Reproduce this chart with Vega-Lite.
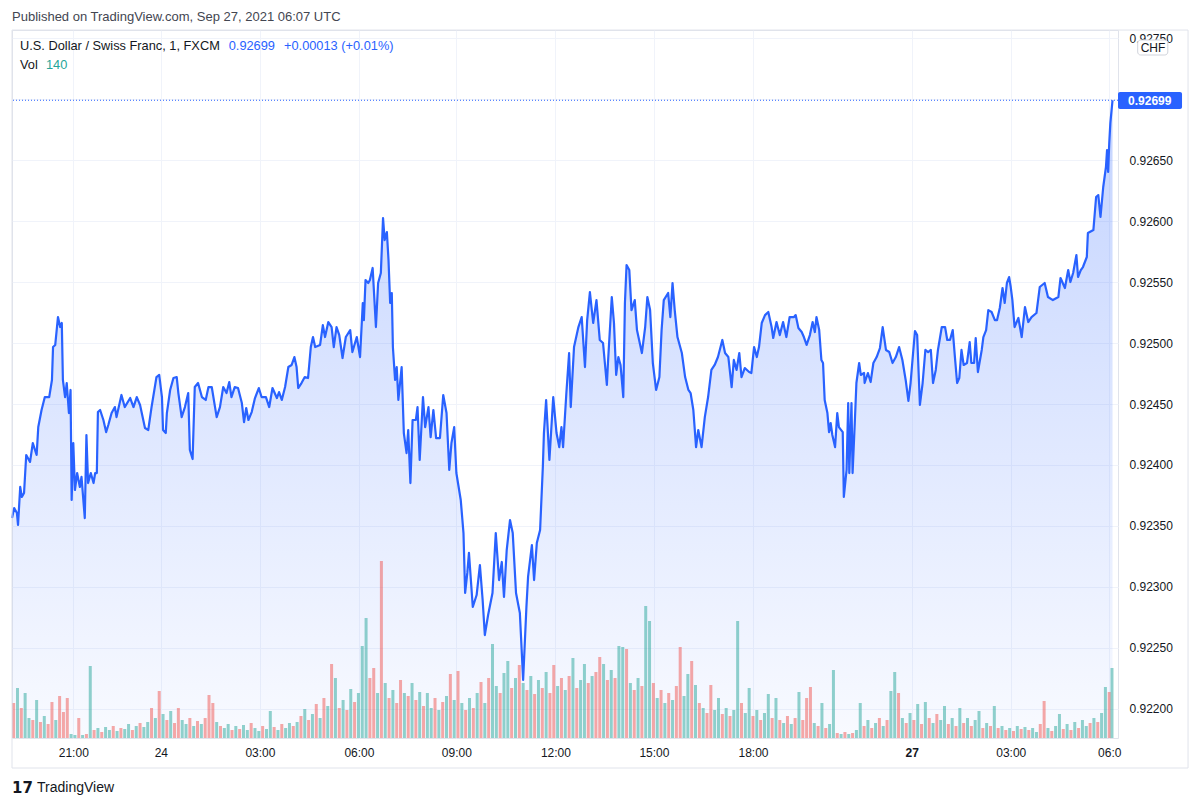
{
  "$schema": "https://vega.github.io/schema/vega-lite/v6.json",
  "width": 1106,
  "height": 708,
  "autosize": {"type": "none"},
  "padding": {"left": 12, "top": 30, "right": 82, "bottom": 69},
  "background": "white",
  "config": {"view": {"stroke": "#e0e3eb"}, "font": "Liberation Sans"},
  "datasets": {
    "price": [
      {"m":0,"p":0.923565},{"m":4,"p":0.923647},{"m":9,"p":0.923606},{"m":11,"p":0.923508},{"m":15,"p":0.92382},{"m":18,"p":0.923738},{"m":22,"p":0.92377},{"m":26,"p":0.924082},{"m":33,"p":0.924025},{"m":38,"p":0.92418},{"m":45,"p":0.924082},{"m":48,"p":0.924311},{"m":54,"p":0.924451},{"m":60,"p":0.924557},{"m":68,"p":0.924557},{"m":73,"p":0.924697},{"m":75,"p":0.924967},{"m":79,"p":0.924984},{"m":84,"p":0.925213},{"m":88,"p":0.925131},{"m":91,"p":0.925164},{"m":93,"p":0.924697},{"m":97,"p":0.924557},{"m":100,"p":0.924672},{"m":104,"p":0.924426},{"m":107,"p":0.924615},{"m":109,"p":0.923713},{"m":112,"p":0.92418},{"m":115,"p":0.923795},{"m":119,"p":0.923934},{"m":124,"p":0.92382},{"m":127,"p":0.923902},{"m":133,"p":0.923565},{"m":136,"p":0.924246},{"m":139,"p":0.923852},{"m":144,"p":0.923934},{"m":149,"p":0.923852},{"m":152,"p":0.923934},{"m":155,"p":0.923934},{"m":157,"p":0.924434},{"m":161,"p":0.924451},{"m":167,"p":0.924369},{"m":172,"p":0.92427},{"m":176,"p":0.924328},{"m":182,"p":0.924426},{"m":188,"p":0.924475},{"m":191,"p":0.924393},{"m":200,"p":0.924574},{"m":206,"p":0.924475},{"m":216,"p":0.924549},{"m":222,"p":0.924475},{"m":228,"p":0.924557},{"m":234,"p":0.924492},{"m":243,"p":0.924303},{"m":249,"p":0.924287},{"m":255,"p":0.924475},{"m":264,"p":0.924721},{"m":269,"p":0.924738},{"m":274,"p":0.924557},{"m":276,"p":0.924287},{"m":281,"p":0.924262},{"m":283,"p":0.924426},{"m":289,"p":0.924615},{"m":295,"p":0.924713},{"m":301,"p":0.924721},{"m":304,"p":0.92459},{"m":310,"p":0.924393},{"m":316,"p":0.924475},{"m":322,"p":0.92459},{"m":325,"p":0.924123},{"m":330,"p":0.924049},{"m":334,"p":0.924639},{"m":340,"p":0.924672},{"m":347,"p":0.924557},{"m":354,"p":0.924533},{"m":359,"p":0.924639},{"m":365,"p":0.924639},{"m":371,"p":0.924475},{"m":374,"p":0.924393},{"m":380,"p":0.924475},{"m":386,"p":0.924639},{"m":392,"p":0.92459},{"m":397,"p":0.92468},{"m":401,"p":0.924557},{"m":407,"p":0.924639},{"m":413,"p":0.924631},{"m":420,"p":0.924508},{"m":424,"p":0.924352},{"m":428,"p":0.924467},{"m":432,"p":0.924369},{"m":438,"p":0.924434},{"m":444,"p":0.924549},{"m":451,"p":0.924631},{"m":456,"p":0.924557},{"m":464,"p":0.924557},{"m":470,"p":0.924475},{"m":476,"p":0.924631},{"m":484,"p":0.924549},{"m":488,"p":0.924598},{"m":493,"p":0.924533},{"m":499,"p":0.924639},{"m":505,"p":0.924803},{"m":511,"p":0.92482},{"m":516,"p":0.924885},{"m":520,"p":0.924803},{"m":523,"p":0.924631},{"m":529,"p":0.924672},{"m":535,"p":0.924721},{"m":541,"p":0.924713},{"m":546,"p":0.924967},{"m":550,"p":0.925049},{"m":554,"p":0.924967},{"m":563,"p":0.924984},{"m":568,"p":0.925147},{"m":572,"p":0.925049},{"m":578,"p":0.925172},{"m":584,"p":0.925131},{"m":588,"p":0.924967},{"m":593,"p":0.925131},{"m":598,"p":0.925065},{"m":604,"p":0.924877},{"m":610,"p":0.925049},{"m":618,"p":0.925106},{"m":622,"p":0.924926},{"m":630,"p":0.925049},{"m":636,"p":0.924885},{"m":641,"p":0.925328},{"m":643,"p":0.925188},{"m":646,"p":0.925516},{"m":651,"p":0.925492},{"m":654,"p":0.925516},{"m":659,"p":0.925615},{"m":665,"p":0.925131},{"m":669,"p":0.925492},{"m":674,"p":0.925574},{"m":678,"p":0.926025},{"m":681,"p":0.925844},{"m":685,"p":0.92591},{"m":688,"p":0.92568},{"m":691,"p":0.925328},{"m":694,"p":0.92541},{"m":696,"p":0.924967},{"m":700,"p":0.924697},{"m":703,"p":0.924803},{"m":706,"p":0.924533},{"m":712,"p":0.924803},{"m":716,"p":0.924262},{"m":721,"p":0.924098},{"m":724,"p":0.924287},{"m":728,"p":0.923852},{"m":732,"p":0.924369},{"m":738,"p":0.924369},{"m":741,"p":0.924475},{"m":745,"p":0.924041},{"m":751,"p":0.924557},{"m":755,"p":0.924311},{"m":761,"p":0.924475},{"m":765,"p":0.924229},{"m":770,"p":0.924451},{"m":775,"p":0.924221},{"m":782,"p":0.924221},{"m":788,"p":0.924574},{"m":794,"p":0.924426},{"m":799,"p":0.923959},{"m":803,"p":0.92418},{"m":808,"p":0.924311},{"m":812,"p":0.923934},{"m":820,"p":0.923713},{"m":825,"p":0.923442},{"m":828,"p":0.922951},{"m":832,"p":0.923115},{"m":835,"p":0.923279},{"m":842,"p":0.922836},{"m":849,"p":0.922934},{"m":855,"p":0.92318},{"m":860,"p":0.922893},{"m":864,"p":0.922606},{"m":870,"p":0.92277},{"m":878,"p":0.922951},{"m":884,"p":0.923442},{"m":890,"p":0.923057},{"m":895,"p":0.923205},{"m":899,"p":0.922918},{"m":904,"p":0.923303},{"m":910,"p":0.923549},{"m":915,"p":0.923442},{"m":921,"p":0.922951},{"m":928,"p":0.922787},{"m":934,"p":0.922238},{"m":940,"p":0.922836},{"m":943,"p":0.923082},{"m":950,"p":0.923344},{"m":954,"p":0.923057},{"m":959,"p":0.92336},{"m":965,"p":0.923467},{"m":970,"p":0.923983},{"m":972,"p":0.924262},{"m":976,"p":0.924533},{"m":982,"p":0.924041},{"m":989,"p":0.924557},{"m":995,"p":0.924262},{"m":1000,"p":0.924147},{"m":1004,"p":0.924311},{"m":1007,"p":0.924147},{"m":1013,"p":0.92459},{"m":1018,"p":0.924918},{"m":1021,"p":0.924475},{"m":1027,"p":0.924967},{"m":1035,"p":0.925131},{"m":1041,"p":0.925213},{"m":1047,"p":0.924803},{"m":1051,"p":0.925188},{"m":1056,"p":0.925418},{"m":1062,"p":0.925164},{"m":1068,"p":0.925352},{"m":1074,"p":0.925025},{"m":1080,"p":0.925},{"m":1087,"p":0.924656},{"m":1089,"p":0.924836},{"m":1096,"p":0.925377},{"m":1100,"p":0.925164},{"m":1104,"p":0.924738},{"m":1108,"p":0.924885},{"m":1112,"p":0.92482},{"m":1117,"p":0.924557},{"m":1120,"p":0.925328},{"m":1123,"p":0.925639},{"m":1128,"p":0.925598},{"m":1132,"p":0.92527},{"m":1138,"p":0.925352},{"m":1142,"p":0.925106},{"m":1151,"p":0.924918},{"m":1157,"p":0.925131},{"m":1161,"p":0.925377},{"m":1166,"p":0.92527},{"m":1171,"p":0.924836},{"m":1177,"p":0.924615},{"m":1183,"p":0.924721},{"m":1187,"p":0.925106},{"m":1191,"p":0.925352},{"m":1199,"p":0.92541},{"m":1203,"p":0.925213},{"m":1207,"p":0.925492},{"m":1211,"p":0.92527},{"m":1216,"p":0.925049},{"m":1224,"p":0.924918},{"m":1230,"p":0.924721},{"m":1236,"p":0.924615},{"m":1240,"p":0.92459},{"m":1245,"p":0.924451},{"m":1250,"p":0.924147},{"m":1254,"p":0.924287},{"m":1260,"p":0.924147},{"m":1266,"p":0.924393},{"m":1272,"p":0.924557},{"m":1278,"p":0.924779},{"m":1284,"p":0.92482},{"m":1290,"p":0.924885},{"m":1298,"p":0.925025},{"m":1303,"p":0.924918},{"m":1309,"p":0.924885},{"m":1315,"p":0.924639},{"m":1319,"p":0.924861},{"m":1324,"p":0.924779},{"m":1329,"p":0.924918},{"m":1333,"p":0.924721},{"m":1339,"p":0.924795},{"m":1347,"p":0.924762},{"m":1351,"p":0.924754},{"m":1356,"p":0.924967},{"m":1361,"p":0.924885},{"m":1365,"p":0.924967},{"m":1370,"p":0.925164},{"m":1376,"p":0.925229},{"m":1382,"p":0.925254},{"m":1388,"p":0.925131},{"m":1391,"p":0.925041},{"m":1397,"p":0.925172},{"m":1403,"p":0.925065},{"m":1409,"p":0.925172},{"m":1415,"p":0.925049},{"m":1421,"p":0.925213},{"m":1429,"p":0.925213},{"m":1432,"p":0.925229},{"m":1437,"p":0.925123},{"m":1443,"p":0.92509},{"m":1447,"p":0.925049},{"m":1452,"p":0.924984},{"m":1458,"p":0.925065},{"m":1463,"p":0.925172},{"m":1467,"p":0.92509},{"m":1470,"p":0.925213},{"m":1475,"p":0.925106},{"m":1479,"p":0.924861},{"m":1482,"p":0.924836},{"m":1485,"p":0.924533},{"m":1490,"p":0.924426},{"m":1493,"p":0.92427},{"m":1496,"p":0.924344},{"m":1499,"p":0.924246},{"m":1504,"p":0.924147},{"m":1508,"p":0.924426},{"m":1511,"p":0.924311},{"m":1518,"p":0.92427},{"m":1520,"p":0.923738},{"m":1525,"p":0.923959},{"m":1528,"p":0.924508},{"m":1530,"p":0.923934},{"m":1534,"p":0.924508},{"m":1536,"p":0.923934},{"m":1540,"p":0.924344},{"m":1543,"p":0.924672},{"m":1548,"p":0.924836},{"m":1551,"p":0.924738},{"m":1557,"p":0.924754},{"m":1558,"p":0.924672},{"m":1564,"p":0.924754},{"m":1569,"p":0.92468},{"m":1574,"p":0.924836},{"m":1580,"p":0.924885},{"m":1586,"p":0.924959},{"m":1591,"p":0.925131},{"m":1597,"p":0.924943},{"m":1603,"p":0.924926},{"m":1609,"p":0.924836},{"m":1615,"p":0.924885},{"m":1621,"p":0.924967},{"m":1627,"p":0.924861},{"m":1633,"p":0.924697},{"m":1638,"p":0.924525},{"m":1642,"p":0.924672},{"m":1647,"p":0.924943},{"m":1650,"p":0.925098},{"m":1654,"p":0.925065},{"m":1659,"p":0.924492},{"m":1664,"p":0.924672},{"m":1669,"p":0.924943},{"m":1674,"p":0.924926},{"m":1679,"p":0.924943},{"m":1683,"p":0.924672},{"m":1688,"p":0.924779},{"m":1692,"p":0.924943},{"m":1699,"p":0.925131},{"m":1705,"p":0.925131},{"m":1709,"p":0.925025},{"m":1714,"p":0.925025},{"m":1719,"p":0.925106},{"m":1723,"p":0.924885},{"m":1727,"p":0.924672},{"m":1731,"p":0.924713},{"m":1735,"p":0.924943},{"m":1739,"p":0.92482},{"m":1745,"p":0.924836},{"m":1750,"p":0.925008},{"m":1753,"p":0.924836},{"m":1758,"p":0.924836},{"m":1761,"p":0.925041},{"m":1765,"p":0.924762},{"m":1772,"p":0.924943},{"m":1775,"p":0.925049},{"m":1780,"p":0.925106},{"m":1784,"p":0.92527},{"m":1790,"p":0.925254},{"m":1796,"p":0.925188},{"m":1800,"p":0.925188},{"m":1805,"p":0.925287},{"m":1810,"p":0.925451},{"m":1814,"p":0.925328},{"m":1818,"p":0.925492},{"m":1822,"p":0.925541},{"m":1825,"p":0.925459},{"m":1828,"p":0.925352},{"m":1832,"p":0.925131},{"m":1839,"p":0.925205},{"m":1845,"p":0.925049},{"m":1851,"p":0.925295},{"m":1857,"p":0.925172},{"m":1863,"p":0.925213},{"m":1872,"p":0.925246},{"m":1878,"p":0.925459},{"m":1887,"p":0.925492},{"m":1893,"p":0.925377},{"m":1902,"p":0.925352},{"m":1912,"p":0.925377},{"m":1916,"p":0.925533},{"m":1924,"p":0.925451},{"m":1930,"p":0.925598},{"m":1934,"p":0.9255},{"m":1939,"p":0.925574},{"m":1945,"p":0.925721},{"m":1948,"p":0.925541},{"m":1953,"p":0.925598},{"m":1957,"p":0.925623},{"m":1964,"p":0.925705},{"m":1966,"p":0.925902},{"m":1976,"p":0.925926},{"m":1981,"p":0.926197},{"m":1985,"p":0.926213},{"m":1989,"p":0.926033},{"m":1994,"p":0.926279},{"m":1999,"p":0.926443},{"m":2001,"p":0.926582},{"m":2003,"p":0.926402},{"m":2005,"p":0.926639},{"m":2007,"p":0.926803},{"m":2011,"p":0.92699}
    ],
    "vol": [
      {"m":3,"v":70,"d":"d"},{"m":10,"v":100,"d":"u"},{"m":17,"v":60,"d":"d"},{"m":24,"v":90,"d":"u"},{"m":31,"v":40,"d":"u"},{"m":38,"v":36,"d":"d"},{"m":45,"v":76,"d":"u"},{"m":52,"v":32,"d":"d"},{"m":59,"v":44,"d":"u"},{"m":66,"v":28,"d":"d"},
      {"m":73,"v":72,"d":"d"},{"m":80,"v":36,"d":"u"},{"m":87,"v":84,"d":"d"},{"m":94,"v":52,"d":"d"},{"m":101,"v":80,"d":"d"},{"m":108,"v":8,"d":"u"},{"m":115,"v":6,"d":"u"},{"m":122,"v":40,"d":"d"},{"m":129,"v":6,"d":"u"},{"m":136,"v":8,"d":"d"},
      {"m":143,"v":144,"d":"u"},{"m":150,"v":16,"d":"d"},{"m":157,"v":20,"d":"u"},{"m":164,"v":12,"d":"d"},{"m":171,"v":22,"d":"u"},{"m":178,"v":16,"d":"u"},{"m":185,"v":24,"d":"d"},{"m":192,"v":14,"d":"u"},{"m":199,"v":20,"d":"d"},{"m":206,"v":18,"d":"u"},
      {"m":213,"v":28,"d":"u"},{"m":220,"v":16,"d":"d"},{"m":227,"v":24,"d":"u"},{"m":234,"v":30,"d":"d"},{"m":241,"v":22,"d":"u"},{"m":248,"v":32,"d":"u"},{"m":255,"v":60,"d":"d"},{"m":262,"v":40,"d":"u"},{"m":269,"v":94,"d":"d"},{"m":276,"v":48,"d":"u"},
      {"m":283,"v":36,"d":"d"},{"m":290,"v":54,"d":"u"},{"m":297,"v":30,"d":"d"},{"m":304,"v":60,"d":"d"},{"m":311,"v":36,"d":"u"},{"m":318,"v":28,"d":"u"},{"m":325,"v":40,"d":"d"},{"m":332,"v":24,"d":"u"},{"m":339,"v":34,"d":"d"},{"m":346,"v":28,"d":"u"},
      {"m":353,"v":40,"d":"d"},{"m":360,"v":86,"d":"d"},{"m":367,"v":70,"d":"d"},{"m":374,"v":32,"d":"u"},{"m":381,"v":24,"d":"d"},{"m":388,"v":20,"d":"u"},{"m":395,"v":28,"d":"u"},{"m":402,"v":16,"d":"d"},{"m":409,"v":24,"d":"u"},{"m":416,"v":18,"d":"d"},
      {"m":423,"v":26,"d":"u"},{"m":430,"v":16,"d":"u"},{"m":437,"v":30,"d":"d"},{"m":444,"v":20,"d":"u"},{"m":451,"v":14,"d":"u"},{"m":458,"v":24,"d":"d"},{"m":465,"v":18,"d":"u"},{"m":472,"v":54,"d":"u"},{"m":479,"v":22,"d":"d"},{"m":486,"v":16,"d":"u"},
      {"m":493,"v":28,"d":"d"},{"m":500,"v":20,"d":"u"},{"m":507,"v":30,"d":"u"},{"m":514,"v":24,"d":"d"},{"m":521,"v":32,"d":"u"},{"m":528,"v":44,"d":"d"},{"m":535,"v":58,"d":"u"},{"m":542,"v":36,"d":"d"},{"m":549,"v":48,"d":"u"},{"m":556,"v":68,"d":"d"},
      {"m":563,"v":40,"d":"u"},{"m":570,"v":80,"d":"d"},{"m":577,"v":64,"d":"u"},{"m":584,"v":148,"d":"d"},{"m":591,"v":120,"d":"u"},{"m":598,"v":60,"d":"d"},{"m":605,"v":76,"d":"u"},{"m":612,"v":56,"d":"d"},{"m":619,"v":98,"d":"u"},{"m":626,"v":72,"d":"d"},
      {"m":633,"v":90,"d":"u"},{"m":640,"v":184,"d":"u"},{"m":647,"v":240,"d":"u"},{"m":654,"v":120,"d":"d"},{"m":661,"v":140,"d":"d"},{"m":668,"v":90,"d":"u"},{"m":675,"v":354,"d":"d"},{"m":682,"v":110,"d":"u"},{"m":689,"v":80,"d":"d"},{"m":696,"v":96,"d":"u"},
      {"m":703,"v":70,"d":"d"},{"m":710,"v":116,"d":"d"},{"m":717,"v":90,"d":"u"},{"m":724,"v":84,"d":"d"},{"m":731,"v":110,"d":"u"},{"m":738,"v":76,"d":"d"},{"m":745,"v":92,"d":"u"},{"m":752,"v":64,"d":"d"},{"m":759,"v":90,"d":"u"},{"m":766,"v":60,"d":"u"},
      {"m":773,"v":80,"d":"d"},{"m":780,"v":56,"d":"u"},{"m":787,"v":72,"d":"d"},{"m":794,"v":84,"d":"u"},{"m":801,"v":128,"d":"d"},{"m":808,"v":76,"d":"u"},{"m":815,"v":134,"d":"d"},{"m":822,"v":70,"d":"u"},{"m":829,"v":56,"d":"d"},{"m":836,"v":80,"d":"u"},
      {"m":843,"v":60,"d":"d"},{"m":850,"v":90,"d":"u"},{"m":857,"v":112,"d":"d"},{"m":864,"v":70,"d":"u"},{"m":871,"v":120,"d":"d"},{"m":878,"v":188,"d":"u"},{"m":885,"v":104,"d":"u"},{"m":892,"v":90,"d":"d"},{"m":899,"v":130,"d":"u"},{"m":906,"v":154,"d":"u"},
      {"m":913,"v":100,"d":"d"},{"m":920,"v":120,"d":"u"},{"m":927,"v":146,"d":"d"},{"m":934,"v":110,"d":"u"},{"m":941,"v":96,"d":"d"},{"m":948,"v":124,"d":"u"},{"m":955,"v":88,"d":"d"},{"m":962,"v":116,"d":"u"},{"m":969,"v":100,"d":"d"},{"m":976,"v":132,"d":"u"},
      {"m":983,"v":90,"d":"d"},{"m":990,"v":146,"d":"d"},{"m":997,"v":104,"d":"u"},{"m":1004,"v":120,"d":"d"},{"m":1011,"v":96,"d":"u"},{"m":1018,"v":124,"d":"d"},{"m":1025,"v":160,"d":"u"},{"m":1032,"v":100,"d":"d"},{"m":1039,"v":116,"d":"u"},{"m":1046,"v":148,"d":"u"},
      {"m":1053,"v":110,"d":"d"},{"m":1060,"v":124,"d":"u"},{"m":1067,"v":132,"d":"d"},{"m":1074,"v":162,"d":"d"},{"m":1081,"v":148,"d":"u"},{"m":1088,"v":116,"d":"d"},{"m":1095,"v":136,"d":"u"},{"m":1102,"v":120,"d":"d"},{"m":1109,"v":184,"d":"u"},{"m":1116,"v":182,"d":"u"},
      {"m":1123,"v":178,"d":"d"},{"m":1130,"v":110,"d":"u"},{"m":1137,"v":96,"d":"d"},{"m":1144,"v":120,"d":"u"},{"m":1151,"v":104,"d":"d"},{"m":1158,"v":264,"d":"u"},{"m":1165,"v":234,"d":"u"},{"m":1172,"v":110,"d":"d"},{"m":1179,"v":80,"d":"u"},{"m":1186,"v":96,"d":"d"},
      {"m":1193,"v":70,"d":"u"},{"m":1200,"v":90,"d":"d"},{"m":1207,"v":76,"d":"u"},{"m":1214,"v":104,"d":"d"},{"m":1221,"v":182,"d":"d"},{"m":1228,"v":84,"d":"u"},{"m":1235,"v":128,"d":"u"},{"m":1242,"v":154,"d":"d"},{"m":1249,"v":106,"d":"u"},{"m":1256,"v":70,"d":"d"},
      {"m":1263,"v":60,"d":"u"},{"m":1270,"v":50,"d":"d"},{"m":1277,"v":106,"d":"d"},{"m":1284,"v":56,"d":"u"},{"m":1291,"v":80,"d":"u"},{"m":1298,"v":48,"d":"d"},{"m":1305,"v":60,"d":"u"},{"m":1312,"v":44,"d":"d"},{"m":1319,"v":56,"d":"u"},{"m":1326,"v":234,"d":"u"},
      {"m":1333,"v":70,"d":"d"},{"m":1340,"v":50,"d":"u"},{"m":1347,"v":100,"d":"u"},{"m":1354,"v":44,"d":"d"},{"m":1361,"v":56,"d":"u"},{"m":1368,"v":36,"d":"d"},{"m":1375,"v":50,"d":"u"},{"m":1382,"v":88,"d":"u"},{"m":1389,"v":40,"d":"d"},{"m":1396,"v":80,"d":"u"},
      {"m":1403,"v":36,"d":"d"},{"m":1410,"v":30,"d":"u"},{"m":1417,"v":44,"d":"d"},{"m":1424,"v":28,"d":"u"},{"m":1431,"v":40,"d":"d"},{"m":1438,"v":92,"d":"u"},{"m":1445,"v":36,"d":"d"},{"m":1452,"v":80,"d":"d"},{"m":1459,"v":102,"d":"d"},{"m":1466,"v":30,"d":"u"},
      {"m":1473,"v":24,"d":"d"},{"m":1480,"v":70,"d":"u"},{"m":1487,"v":20,"d":"d"},{"m":1494,"v":28,"d":"u"},{"m":1501,"v":136,"d":"u"},{"m":1508,"v":10,"d":"d"},{"m":1515,"v":8,"d":"u"},{"m":1522,"v":12,"d":"d"},{"m":1529,"v":8,"d":"u"},{"m":1536,"v":10,"d":"d"},
      {"m":1543,"v":16,"d":"u"},{"m":1550,"v":70,"d":"u"},{"m":1557,"v":24,"d":"d"},{"m":1564,"v":36,"d":"u"},{"m":1571,"v":20,"d":"d"},{"m":1578,"v":30,"d":"u"},{"m":1585,"v":40,"d":"d"},{"m":1592,"v":24,"d":"u"},{"m":1599,"v":36,"d":"d"},{"m":1606,"v":94,"d":"u"},
      {"m":1613,"v":132,"d":"u"},{"m":1620,"v":90,"d":"d"},{"m":1627,"v":40,"d":"u"},{"m":1634,"v":30,"d":"d"},{"m":1641,"v":50,"d":"u"},{"m":1648,"v":36,"d":"d"},{"m":1655,"v":68,"d":"u"},{"m":1662,"v":28,"d":"d"},{"m":1669,"v":72,"d":"u"},{"m":1676,"v":40,"d":"d"},
      {"m":1683,"v":30,"d":"u"},{"m":1690,"v":48,"d":"d"},{"m":1697,"v":36,"d":"u"},{"m":1704,"v":64,"d":"u"},{"m":1711,"v":28,"d":"d"},{"m":1718,"v":40,"d":"u"},{"m":1725,"v":24,"d":"d"},{"m":1732,"v":60,"d":"u"},{"m":1739,"v":30,"d":"d"},{"m":1746,"v":40,"d":"u"},
      {"m":1753,"v":24,"d":"d"},{"m":1760,"v":36,"d":"u"},{"m":1767,"v":54,"d":"u"},{"m":1774,"v":20,"d":"d"},{"m":1781,"v":30,"d":"u"},{"m":1788,"v":24,"d":"d"},{"m":1795,"v":64,"d":"u"},{"m":1802,"v":20,"d":"d"},{"m":1809,"v":24,"d":"u"},{"m":1816,"v":16,"d":"d"},
      {"m":1823,"v":20,"d":"u"},{"m":1830,"v":14,"d":"d"},{"m":1837,"v":24,"d":"u"},{"m":1844,"v":18,"d":"d"},{"m":1851,"v":22,"d":"u"},{"m":1858,"v":16,"d":"d"},{"m":1865,"v":20,"d":"u"},{"m":1872,"v":12,"d":"u"},{"m":1879,"v":28,"d":"d"},{"m":1886,"v":74,"d":"d"},
      {"m":1893,"v":20,"d":"u"},{"m":1900,"v":14,"d":"d"},{"m":1907,"v":24,"d":"u"},{"m":1914,"v":48,"d":"u"},{"m":1921,"v":18,"d":"d"},{"m":1928,"v":28,"d":"u"},{"m":1935,"v":16,"d":"d"},{"m":1942,"v":32,"d":"u"},{"m":1949,"v":20,"d":"d"},{"m":1956,"v":36,"d":"u"},
      {"m":1963,"v":24,"d":"u"},{"m":1970,"v":30,"d":"d"},{"m":1977,"v":40,"d":"u"},{"m":1984,"v":32,"d":"d"},{"m":1991,"v":50,"d":"u"},{"m":1998,"v":102,"d":"u"},{"m":2005,"v":92,"d":"d"},{"m":2010,"v":140,"d":"u"}
    ]
  },
  "layer": [
    {
      "data": {"name": "price"},
      "mark": {"type": "area", "line": false, "color": {"x1": 0, "y1": 0, "x2": 0, "y2": 1, "gradient": "linear", "stops": [{"offset": 0, "color": "rgba(41,98,255,0.28)"}, {"offset": 1, "color": "rgba(41,98,255,0.03)"}]}},
      "encoding": {
        "x": {"field": "m", "type": "quantitative", "scale": {"domain": [0, 2021], "nice": false, "zero": false, "padding": 0},
          "axis": {"title": null, "values": [112, 272, 453, 634, 812, 993, 1173, 1354, 1644, 1825, 2005],
            "labelExpr": "datum.value==112?'21:00':datum.value==272?'24':datum.value==453?'03:00':datum.value==634?'06:00':datum.value==812?'09:00':datum.value==993?'12:00':datum.value==1173?'15:00':datum.value==1354?'18:00':datum.value==1644?'27':datum.value==1825?'03:00':'06:0'",
            "grid": true, "gridColor": "#f0f3fa", "domain": false, "ticks": false, "labelPadding": 9, "labelFontSize": 12, "labelColor": "#131722", "labelFont": "Liberation Sans",
            "labelFontWeight": {"condition": {"test": "datum.value == 1644", "value": "bold"}, "value": "normal"},
            "labelOverlap": false, "labelFlush": false, "labelBound": false}},
        "y": {"field": "p", "type": "quantitative", "scale": {"domain": [0.921762, 0.927566], "nice": false, "zero": false},
          "axis": {"title": null, "orient": "right", "values": [0.922, 0.9225, 0.923, 0.9235, 0.924, 0.9245, 0.925, 0.9255, 0.926, 0.9265, 0.927, 0.9275], "format": ".5f",
            "grid": true, "gridColor": "#f0f3fa", "domain": false, "ticks": false, "labelPadding": 11, "labelAlign": "left", "labelBaseline": "middle", "labelFontSize": 12, "labelColor": "#131722", "labelFont": "Liberation Sans", "labelFlush": false, "labelOverlap": false, "labelBound": false}},
        "y2": {"datum": 0.921762}
      }
    },
    {
      "data": {"name": "vol"},
      "mark": {"type": "bar", "size": 3},
      "encoding": {
        "x": {"field": "m", "type": "quantitative"},
        "y": {"field": "v", "type": "quantitative", "scale": {"domain": [0, 1416], "nice": false}, "axis": null},
        "color": {"field": "d", "type": "nominal", "scale": {"domain": ["u", "d"], "range": ["#26a69a", "#ef5350"]}, "legend": null},
        "opacity": {"value": 0.5}
      }
    },
    {
      "data": {"name": "price"},
      "layer": [
        {
          "mark": {"type": "line", "color": "#2962ff", "strokeWidth": 2.2, "strokeJoin": "round"},
          "encoding": {
            "x": {"field": "m", "type": "quantitative"},
            "y": {"field": "p", "type": "quantitative", "scale": {"domain": [0.921762, 0.927566], "nice": false, "zero": false}, "axis": null}
          }
        },
        {
          "data": {"values": [{}]},
          "mark": {"type": "rule", "color": "#2962ff", "strokeDash": [1, 2], "strokeWidth": 1},
          "encoding": {"y": {"datum": 0.92699, "axis": null}}
        },
        {
          "data": {"values": [{}]},
          "mark": {"type": "rect", "filled": false, "stroke": "#e0e3eb", "strokeWidth": 1},
          "encoding": {"x": {"datum": 0}, "x2": {"datum": 2149}, "y": {"datum": 0.9275656, "axis": null}, "y2": {"datum": 0.921516}}
        },
        {
          "data": {"values": [{}]},
          "mark": {"type": "rect", "color": "#2962ff", "cornerRadius": 2},
          "encoding": {"x": {"datum": 2021}, "x2": {"datum": 2138}, "y": {"datum": 0.927057, "axis": null}, "y2": {"datum": 0.926918}}
        },
        {
          "data": {"values": [{}]},
          "mark": {"type": "text", "text": "0.92699", "color": "white", "fontSize": 12, "fontWeight": "bold", "font": "Liberation Sans", "align": "center", "baseline": "middle"},
          "encoding": {"x": {"datum": 2079}, "y": {"datum": 0.926988, "axis": null}}
        },
        {
          "data": {"values": [{}]},
          "mark": {"type": "rect", "fill": "white", "stroke": "#d1d4dc", "strokeWidth": 1, "cornerRadius": 3},
          "encoding": {"x": {"datum": 2057}, "x2": {"datum": 2112}, "y": {"datum": 0.927484, "axis": null}, "y2": {"datum": 0.927361}}
        },
        {
          "data": {"values": [{}]},
          "mark": {"type": "text", "text": "CHF", "color": "#131722", "fontSize": 12, "font": "Liberation Sans", "align": "center", "baseline": "middle"},
          "encoding": {"x": {"datum": 2085}, "y": {"datum": 0.927418, "axis": null}}
        },
        {
          "data": {"values": [{}]},
          "mark": {"type": "text", "text": "Published on TradingView.com, Sep 27, 2021 06:07 UTC", "color": "#434651", "fontSize": 13, "font": "Liberation Sans", "align": "left", "baseline": "middle"},
          "encoding": {"x": {"datum": 0}, "y": {"datum": 0.927672, "axis": null}}
        },
        {
          "data": {"values": [{}]},
          "mark": {"type": "text", "text": "U.S. Dollar / Swiss Franc, 1, FXCM", "color": "#131722", "fontSize": 12.8, "font": "Liberation Sans", "align": "left", "baseline": "middle"},
          "encoding": {"x": {"datum": 14.6}, "y": {"datum": 0.927434, "axis": null}}
        },
        {
          "data": {"values": [{}]},
          "mark": {"type": "text", "text": "0.92699", "color": "#2962ff", "fontSize": 12.8, "font": "Liberation Sans", "align": "left", "baseline": "middle"},
          "encoding": {"x": {"datum": 396}, "y": {"datum": 0.927434, "axis": null}}
        },
        {
          "data": {"values": [{}]},
          "mark": {"type": "text", "text": "+0.00013 (+0.01%)", "color": "#2962ff", "fontSize": 12.8, "font": "Liberation Sans", "align": "left", "baseline": "middle"},
          "encoding": {"x": {"datum": 497}, "y": {"datum": 0.927434, "axis": null}}
        },
        {
          "data": {"values": [{}]},
          "mark": {"type": "text", "text": "Vol", "color": "#131722", "fontSize": 12.8, "font": "Liberation Sans", "align": "left", "baseline": "middle"},
          "encoding": {"x": {"datum": 14.6}, "y": {"datum": 0.927279, "axis": null}}
        },
        {
          "data": {"values": [{}]},
          "mark": {"type": "text", "text": "140", "color": "#26a69a", "fontSize": 12.8, "font": "Liberation Sans", "align": "left", "baseline": "middle"},
          "encoding": {"x": {"datum": 62}, "y": {"datum": 0.927279, "axis": null}}
        },
        {
          "data": {"values": [{}]},
          "mark": {"type": "text", "text": "17", "color": "#131722", "fontSize": 15, "fontWeight": "bold", "font": "DejaVu Sans", "align": "left", "baseline": "middle"},
          "encoding": {"x": {"datum": 0}, "y": {"datum": 0.921352, "axis": null}}
        },
        {
          "data": {"values": [{}]},
          "mark": {"type": "text", "text": "TradingView", "color": "#131722", "fontSize": 14, "font": "Liberation Sans", "align": "left", "baseline": "middle"},
          "encoding": {"x": {"datum": 45.7}, "y": {"datum": 0.921352, "axis": null}}
        }
      ]
    }
  ],
  "resolve": {"scale": {"y": "independent"}}
}
